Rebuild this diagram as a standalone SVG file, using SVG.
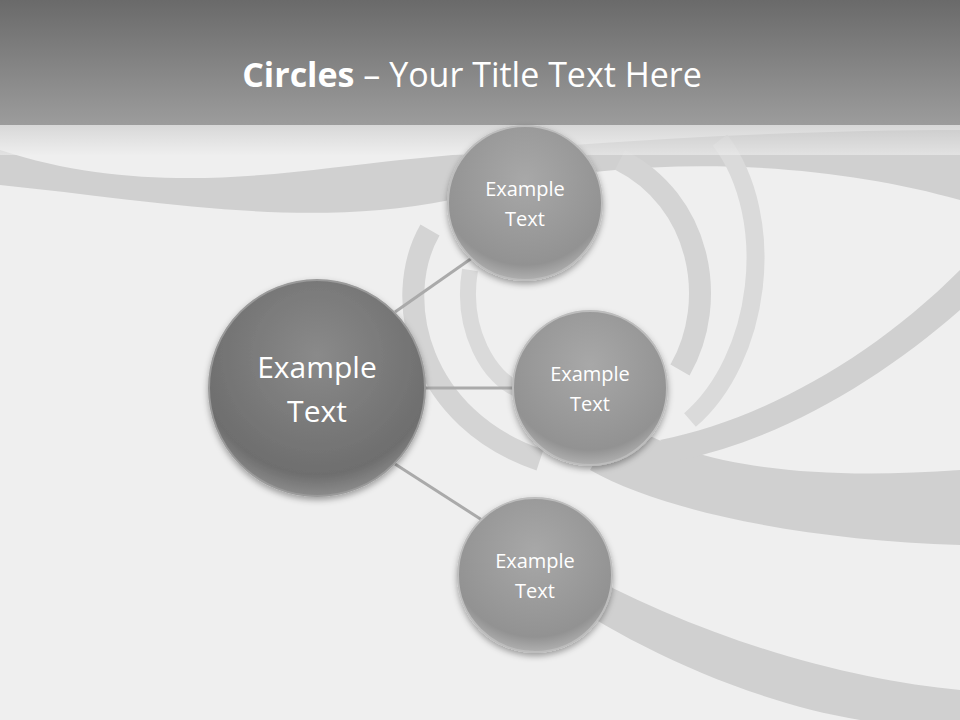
<svg xmlns="http://www.w3.org/2000/svg" width="960" height="720" viewBox="0 0 960 720">
<defs>
<linearGradient id="hdr" x1="0" y1="0" x2="0" y2="1"><stop offset="0" stop-color="#6a6a6a"/><stop offset="1" stop-color="#9c9c9c"/></linearGradient>
<linearGradient id="band" x1="0" y1="0" x2="0" y2="1"><stop offset="0" stop-color="#c8c8c8"/><stop offset="1" stop-color="#eeeeee"/></linearGradient>
<radialGradient id="big" cx="0.5" cy="0.35" r="0.65"><stop offset="0" stop-color="#8a8a8a"/><stop offset="0.85" stop-color="#6e6e6e"/><stop offset="1" stop-color="#8c8c8c"/></radialGradient>
<radialGradient id="sm" cx="0.5" cy="0.35" r="0.65"><stop offset="0" stop-color="#a8a8a8"/><stop offset="0.85" stop-color="#929292"/><stop offset="1" stop-color="#b0b0b0"/></radialGradient>
<filter id="sh" x="-20%" y="-20%" width="140%" height="140%"><feDropShadow dx="0" dy="3" stdDeviation="3" flood-color="#000" flood-opacity="0.35"/></filter>
</defs>
<style>
.t{font-family:'Open Sans','Liberation Sans',sans-serif;fill:#fff;text-anchor:middle}
.s{font-size:20px}
.c{stroke:#aaaaaa;stroke-width:3}
.sw{fill:#d0d0d0}
</style>
<rect width="960" height="720" fill="#efefef"/>
<g id="swirl">
<path class="sw" d="M0,150 C150,200 300,170 400,160 C600,140 800,130 960,130 L960,200 C820,160 620,150 450,200 C300,230 150,200 0,185 Z"/>
<path class="sw" d="M620,420 C700,470 820,480 960,470 L960,545 C800,540 660,510 590,470 Z"/>
<path class="sw" d="M560,560 C700,640 850,680 960,690 L960,720 L860,720 C740,700 620,640 550,590 Z"/>
<path class="sw" d="M660,440 C760,420 870,360 960,270 L960,310 C880,380 780,440 680,460 Z"/>
<path fill="none" stroke="#d4d4d4" stroke-width="22" d="M620,160 C700,200 720,300 680,370"/>
<path fill="none" stroke="#d4d4d4" stroke-width="22" d="M430,230 C390,300 420,420 540,460"/>
<path fill="none" stroke="#dadada" stroke-width="18" d="M720,140 C780,220 760,360 690,420"/>
<path fill="none" stroke="#dadada" stroke-width="16" d="M470,270 C460,330 490,380 520,390"/>
</g>
<rect width="960" height="125" fill="url(#hdr)"/>
<rect y="125" width="960" height="30" fill="url(#band)" opacity="0.6"/>
<text class="t" x="472" y="87" font-size="34"><tspan font-weight="bold">Circles</tspan> – Your Title Text Here</text>
<g id="connectors">
<line class="c" x1="395" y1="312" x2="472" y2="258"/>
<line class="c" x1="425" y1="388" x2="515" y2="388"/>
<line class="c" x1="395" y1="464" x2="482" y2="520"/>
</g>
<g id="center"><circle cx="317" cy="388" r="108" fill="url(#big)" stroke="#9a9a9a" stroke-width="2" filter="url(#sh)"/>
<text class="t" x="317" y="378" font-size="30">Example</text><text class="t" x="317" y="422" font-size="30">Text</text></g>
<g id="n1"><circle cx="525" cy="203" r="77" fill="url(#sm)" stroke="#bdbdbd" stroke-width="2" filter="url(#sh)"/>
<text class="t s" x="525" y="196">Example</text><text class="t s" x="525" y="226">Text</text></g>
<g id="n2"><circle cx="590" cy="388" r="77" fill="url(#sm)" stroke="#bdbdbd" stroke-width="2" filter="url(#sh)"/>
<text class="t s" x="590" y="381">Example</text><text class="t s" x="590" y="411">Text</text></g>
<g id="n3"><circle cx="535" cy="575" r="77" fill="url(#sm)" stroke="#bdbdbd" stroke-width="2" filter="url(#sh)"/>
<text class="t s" x="535" y="568">Example</text><text class="t s" x="535" y="598">Text</text></g>
</svg>
